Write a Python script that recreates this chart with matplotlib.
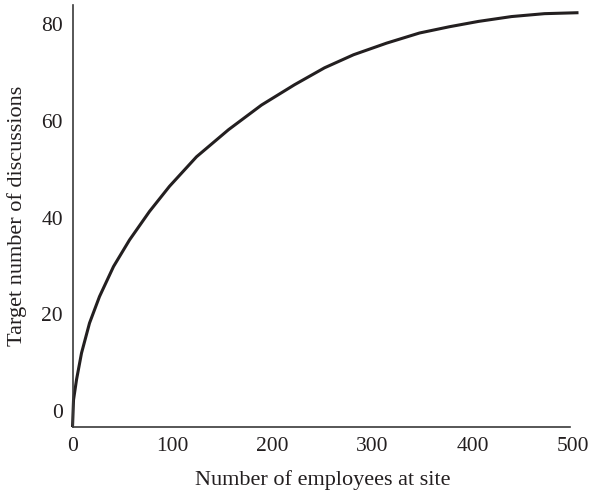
import numpy as np
import matplotlib
matplotlib.use("Agg")
import matplotlib.pyplot as plt

# values
employees = [0, 1, 4, 9, 17, 27, 41, 57, 77, 97, 124, 144, 156, 189, 222,
             252, 281, 314, 347, 377, 406, 439, 472, 506]
discussions = [-3.3, 2.3, 6.5, 12.0, 18.2, 23.7, 29.9, 35.4, 41.3, 46.5, 52.6,
               56.1, 58.2, 63.3, 67.5, 71.0, 73.7, 76.1, 78.2, 79.5, 80.6,
               81.6, 82.2, 82.4]

x_ticks = [0, 100, 200, 300, 400, 500]
y_ticks = [0, 20, 40, 60, 80]

plt.rcParams['font.family'] = ['Liberation Serif', 'DejaVu Serif']

fig = plt.figure(figsize=(5.91, 4.96), dpi=100)
ax = fig.add_axes([0.1227, 0.139, 0.846, 0.851])

ax.plot(employees, discussions, color='#231f20', lw=2.2, clip_on=False,
        solid_capstyle='butt', solid_joinstyle='round')

ax.set_xlim(0, 500)
ax.set_ylim(-3.3, 84.0)
ax.set_xticks(x_ticks)
ax.set_yticks(y_ticks)
ax.tick_params(length=0, labelsize=15.5, colors='#231f20')
ax.tick_params(axis='x', pad=7)
ax.tick_params(axis='y', pad=7)

for s in ['top', 'right']:
    ax.spines[s].set_visible(False)
for s in ['left', 'bottom']:
    ax.spines[s].set_linewidth(1.2)
    ax.spines[s].set_color('#3a3a3a')
ax.spines['bottom'].set_bounds(0, 497)

ax.set_xlabel('Number of employees at site', fontsize=16, labelpad=10, color='#231f20')
ax.set_ylabel('Target number of discussions', fontsize=16, labelpad=10, color='#231f20')

fig.savefig('out.png', dpi=100)
